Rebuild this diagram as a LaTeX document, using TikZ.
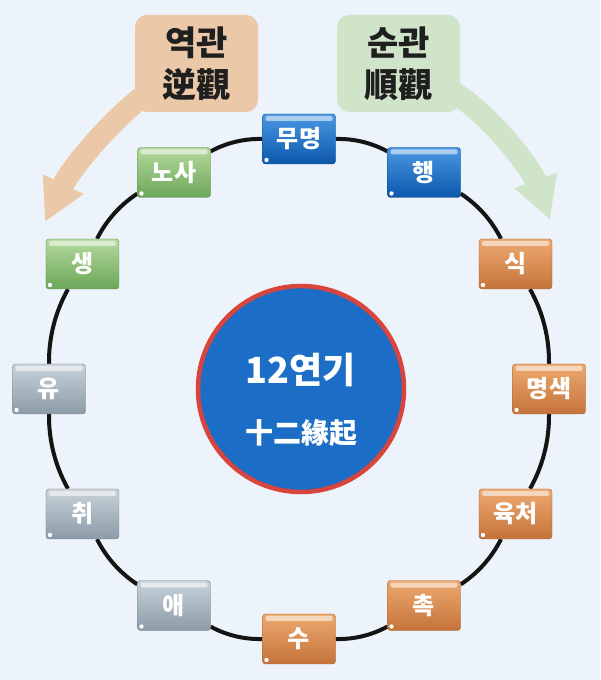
\documentclass[tikz,border=0pt]{standalone}
\usepackage{fontspec}
\setmainfont{Noto Sans CJK KR}
\usetikzlibrary{arrows.meta}
\definecolor{bgc}{HTML}{EDF3FA}
\definecolor{tanc}{HTML}{EBC8A7}
\definecolor{grnc}{HTML}{CFE4C8}
\definecolor{cblue}{HTML}{1C6DC6}
\definecolor{cred}{HTML}{D9453D}
\definecolor{blueT}{HTML}{4A98E4}
\definecolor{blueB}{HTML}{0C57AB}
\definecolor{orT}{HTML}{EDA96F}
\definecolor{orB}{HTML}{C4733A}
\definecolor{grT}{HTML}{C8D2D9}
\definecolor{grB}{HTML}{8B9BA7}
\definecolor{gnT}{HTML}{B5DA9D}
\definecolor{gnB}{HTML}{6CA659}
\pgfdeclarelayer{bottom}
\pgfdeclarelayer{background}
\pgfsetlayers{bottom,background,main}
\begin{document}
\begin{tikzpicture}[x=1pt,y=1pt,
  stage/.style={rounded corners=3pt, minimum width=73pt, minimum height=50pt,
    inner sep=0pt, text=white, font=\fontsize{24}{24}\selectfont\bfseries,
    path picture={
      \fill[white,opacity=.55,rounded corners=2pt]
        ([xshift=3pt,yshift=-2pt]path picture bounding box.north west) rectangle
        ([xshift=-3pt,yshift=-7pt]path picture bounding box.north east);
      \fill[white] ([xshift=4pt,yshift=4pt]path picture bounding box.south west) circle (2.2pt);
    }},
  bluest/.style={stage, top color=blueT, bottom color=blueB, draw=blueB!80!black},
  orst/.style={stage, top color=orT, bottom color=orB, draw=orB!85!black},
  grst/.style={stage, top color=grT, bottom color=grB, draw=grB!85!black},
  gnst/.style={stage, top color=gnT, bottom color=gnB, draw=gnB!85!black},
  conn/.style={line width=4pt, draw=black!92},
  callout/.style={rounded corners=12pt, minimum width=123pt, minimum height=97pt,
    inner sep=0pt, align=center, text=black!88,
    font=\fontsize{34}{42}\selectfont\bfseries},
  bigarrow/.style={line width=22pt, -{Triangle[length=42pt,width=42pt]}}
]
\begin{pgfonlayer}{bottom}
\fill[bgc] (0,0) rectangle (600,680);
\end{pgfonlayer}
\useasboundingbox (0,0) rectangle (600,680);

% callouts
\node[callout, fill=tanc] (rev) at (196.5,616.5) {역관\\逆觀};
\node[callout, fill=grnc] (fwd) at (398.5,616.5) {순관\\順觀};
\coordinate (revtip) at (45,458);
\coordinate (fwdtip) at (550,460);
\begin{pgfonlayer}{background}
\draw[bigarrow, tanc] ([shift={(-46,-27)}]rev.center) .. controls (110,560) and (70,510) .. (revtip);
\draw[bigarrow, grnc] ([shift={(52,-27)}]fwd.center) .. controls (492,565) and (532,510) .. (fwdtip);
\end{pgfonlayer}

% center
\coordinate (ctr) at (299,291);
\node[circle, minimum size=206pt, fill=cblue, draw=cred, line width=4.5pt] (core) at (301,291) {};
\node[text=white, font=\fontsize{36}{36}\selectfont\bfseries] (t1) at ([yshift=19pt]core.center) {12연기};
\node[text=white, font=\fontsize{28}{28}\selectfont\bfseries] (t2) at ([yshift=-44pt]core.center) {十二緣起};

% stages
\node[bluest] (n1) at ([shift={(90:250)}]ctr) {무명};
\node[bluest] (n2) at ([shift={(60:250)}]ctr) {행};
\node[orst] (n3) at ([shift={(30:250)}]ctr) {식};
\node[orst] (n4) at ([shift={(0:250)}]ctr) {명색};
\node[orst] (n5) at ([shift={(-30:250)}]ctr) {육처};
\node[orst] (n6) at ([shift={(-60:250)}]ctr) {촉};
\node[orst] (n7) at ([shift={(-90:250)}]ctr) {수};
\node[grst] (n8) at ([shift={(-120:250)}]ctr) {애};
\node[grst] (n9) at ([shift={(-150:250)}]ctr) {취};
\node[grst] (n10) at ([shift={(180:250)}]ctr) {유};
\node[gnst] (n11) at ([shift={(150:250)}]ctr) {생};
\node[gnst] (n12) at ([shift={(120:250)}]ctr) {노사};

\begin{pgfonlayer}{background}
\foreach \a/\b in {n1/n2,n2/n3,n3/n4,n4/n5,n5/n6,n6/n7,n7/n8,n8/n9,n9/n10,n10/n11,n11/n12,n12/n1}
  \draw[conn] (\a) to[bend left=15, looseness=0.87] (\b);
\end{pgfonlayer}
\end{tikzpicture}
\end{document}
